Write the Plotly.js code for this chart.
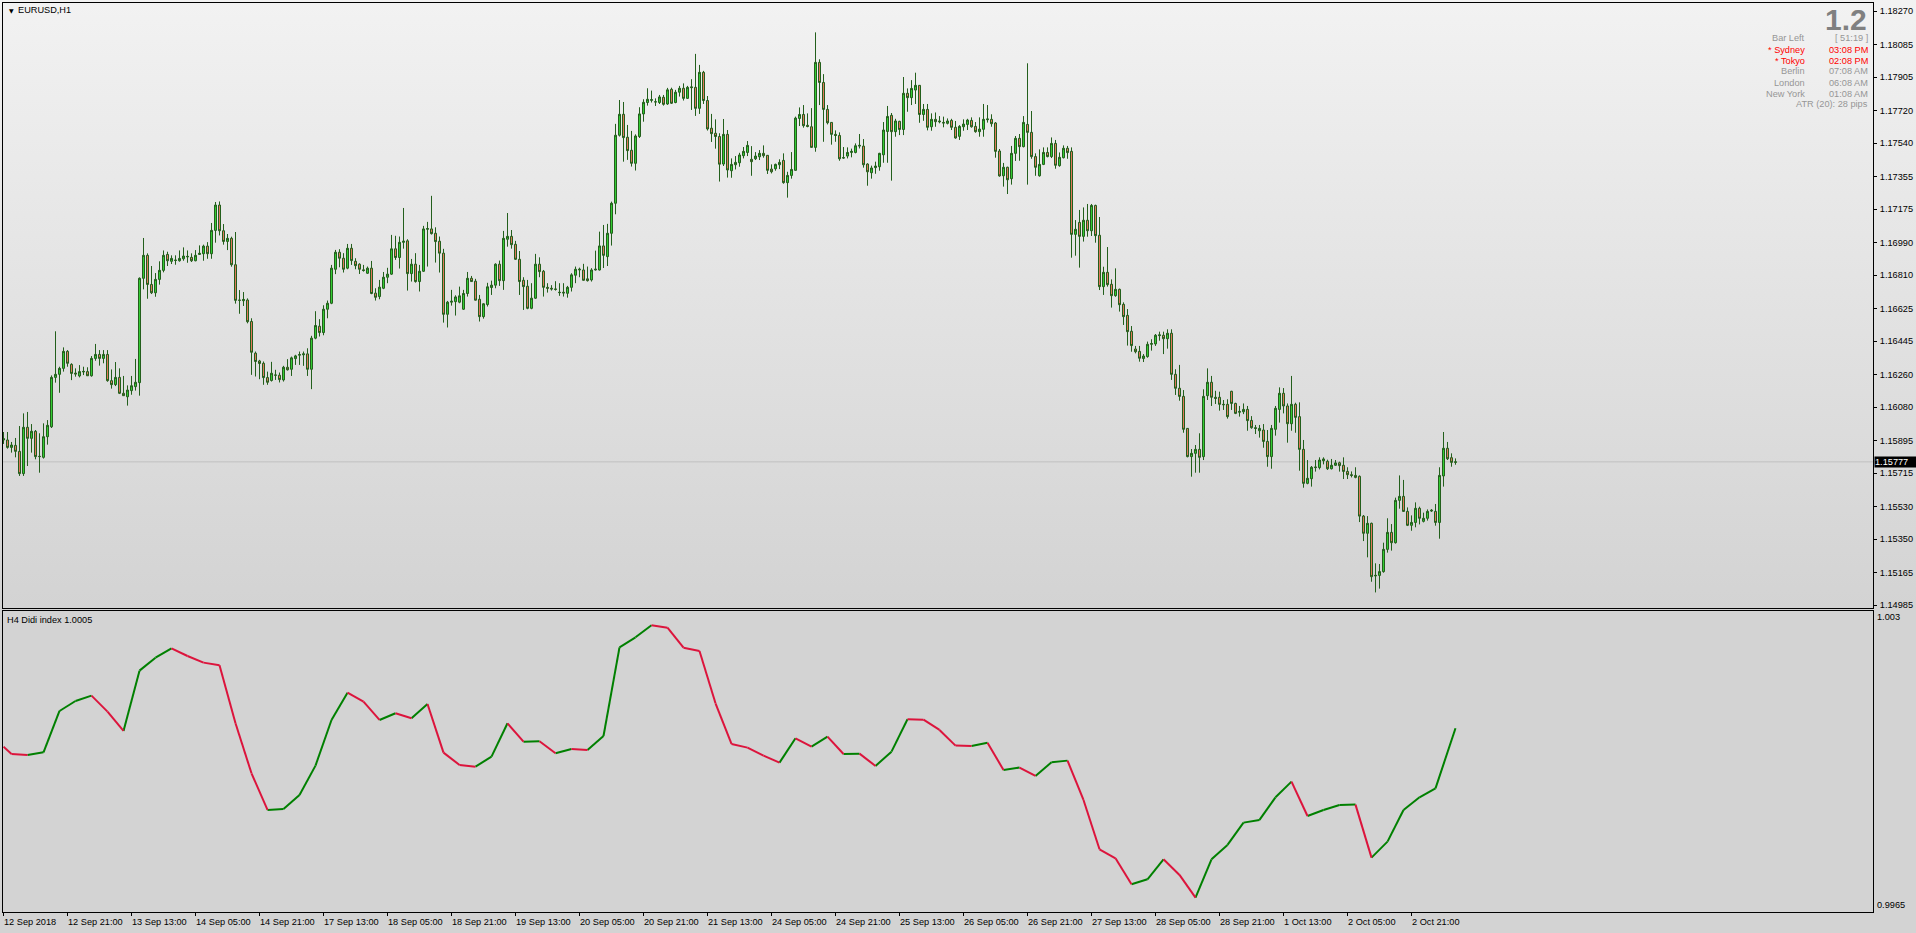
<!DOCTYPE html>
<html><head><meta charset="utf-8">
<script src="https://cdn.plot.ly/plotly-3.0.1.min.js"></script>
<style>
html,body{margin:0;padding:0;background:#d3d3d3;overflow:hidden;}
#chart{width:1916px;height:933px;background:linear-gradient(to bottom,#f2f2f2 0px,#d3d3d3 608px,#d3d3d3 933px);}
</style></head><body><div id="chart"></div><script>
const symbolTitle = "EURUSD,H1";
const didiTitle = "H4 Didi index 1.0005";
const bigText = "1.2";
const infoLabels = ["Bar Left","* Sydney","* Tokyo","Berlin","London","New York"];
const infoValues = ["[ 51:19 ]","03:08 PM","02:08 PM","07:08 AM","06:08 AM","01:08 AM"];
const infoRed = [false,true,true,false,false,false];
const atrText = "ATR (20): 28 pips";

const opens = [
1.15898,1.15898,1.15857,1.15868,1.15835,1.15712,1.15968,1.15907,1.15946,1.15806,
1.15802,1.15916,1.15971,1.16244,1.16261,1.16294,1.16388,1.16316,1.16268,1.16252,
1.16274,1.16276,1.16253,1.16349,1.16371,1.16349,1.16371,1.16226,1.16204,1.16244,
1.16156,1.16137,1.16171,1.16193,1.16215,1.16792,1.16919,1.16758,1.16712,1.16786,
1.16836,1.16924,1.16886,1.16893,1.16889,1.16900,1.16910,1.16908,1.16889,1.16924,
1.16928,1.16970,1.16928,1.17057,1.17197,1.17055,1.16996,1.17013,1.16867,1.16670,
1.16668,1.16672,1.16553,1.16378,1.16335,1.16322,1.16243,1.16227,1.16256,1.16256,
1.16230,1.16300,1.16289,1.16348,1.16367,1.16369,1.16374,1.16289,1.16461,1.16527,
1.16492,1.16621,1.16654,1.16842,1.16936,1.16903,1.16848,1.16958,1.16886,1.16870,
1.16839,1.16820,1.16848,1.16710,1.16691,1.16737,1.16798,1.16815,1.16955,1.16907,
1.16991,1.16999,1.16818,1.16870,1.16774,1.16831,1.17063,1.17065,1.17041,1.16997,
1.16931,1.16593,1.16660,1.16663,1.16660,1.16621,1.16708,1.16792,1.16776,1.16676,
1.16580,1.16647,1.16741,1.16754,1.16870,1.16779,1.17008,1.17024,1.16980,1.16897,
1.16781,1.16748,1.16626,1.16682,1.16870,1.16831,1.16742,1.16737,1.16733,1.16715,
1.16715,1.16709,1.16742,1.16809,1.16838,1.16838,1.16789,1.16783,1.16838,1.16838,
1.16971,1.16912,1.17041,1.17207,1.17583,1.17699,1.17572,1.17500,1.17428,1.17576,
1.17701,1.17764,1.17776,1.17767,1.17764,1.17793,1.17756,1.17837,1.17764,1.17821,
1.17843,1.17787,1.17846,1.17848,1.17732,1.17931,1.17775,1.17622,1.17594,1.17576,
1.17424,1.17588,1.17387,1.17420,1.17431,1.17470,1.17488,1.17450,1.17453,1.17464,
1.17483,1.17472,1.17396,1.17398,1.17420,1.17444,1.17321,1.17361,1.17389,1.17676,
1.17698,1.17638,1.17630,1.17516,1.17986,1.17875,1.17726,1.17654,1.17588,1.17582,
1.17457,1.17468,1.17488,1.17488,1.17523,1.17523,1.17424,1.17376,1.17404,1.17409,
1.17475,1.17604,1.17693,1.17603,1.17660,1.17615,1.17815,1.17791,1.17833,1.17859,
1.17698,1.17726,1.17630,1.17671,1.17662,1.17654,1.17649,1.17665,1.17627,1.17577,
1.17630,1.17643,1.17665,1.17632,1.17603,1.17616,1.17669,1.17671,1.17651,1.17496,
1.17359,1.17406,1.17343,1.17483,1.17566,1.17520,1.17643,1.17599,1.17465,1.17359,
1.17422,1.17488,1.17465,1.17538,1.17415,1.17459,1.17511,1.17494,1.17035,1.17101,
1.17024,1.17113,1.17055,1.17195,1.17030,1.16746,1.16825,1.16759,1.16696,1.16731,
1.16648,1.16587,1.16499,1.16401,1.16388,1.16348,1.16359,1.16427,1.16429,1.16475,
1.16477,1.16458,1.16488,1.16261,1.16184,1.16139,1.15962,1.15806,1.15824,1.15846,
1.15806,1.16143,1.16217,1.16134,1.16134,1.16095,1.16095,1.16167,1.16100,1.16056,
1.16054,1.16067,1.16006,1.15966,1.15949,1.15953,1.15890,1.15806,1.15957,1.16067,
1.16156,1.16086,1.15988,1.16095,1.16027,1.15846,1.15658,1.15684,1.15745,1.15745,
1.15783,1.15780,1.15739,1.15758,1.15772,1.15758,1.15724,1.15706,1.15702,1.15697,
1.15477,1.15382,1.15437,1.15146,1.15149,1.15170,1.15293,1.15387,1.15330,1.15564,
1.15586,1.15503,1.15426,1.15442,1.15520,1.15448,1.15465,1.15505,1.15503,1.15442,
1.15699,1.15852,1.15800,1.15774];

const highs = [
1.15942,1.15942,1.15887,1.15909,1.15975,1.16045,1.16053,1.15986,1.15953,1.15935,
1.15990,1.16008,1.16255,1.16499,1.16303,1.16410,1.16395,1.16322,1.16294,1.16312,
1.16303,1.16300,1.16362,1.16429,1.16395,1.16395,1.16395,1.16288,1.16329,1.16294,
1.16252,1.16200,1.16252,1.16346,1.16797,1.17015,1.16930,1.16860,1.16821,1.16886,
1.16946,1.16939,1.16919,1.16919,1.16946,1.16963,1.16946,1.16930,1.16948,1.16974,
1.16978,1.16992,1.17098,1.17214,1.17217,1.17092,1.17037,1.17022,1.17048,1.16727,
1.16716,1.16681,1.16571,1.16387,1.16341,1.16332,1.16276,1.16330,1.16286,1.16271,
1.16308,1.16345,1.16359,1.16369,1.16387,1.16387,1.16405,1.16474,1.16610,1.16566,
1.16643,1.16669,1.16866,1.16949,1.16953,1.16931,1.16982,1.16982,1.16903,1.16875,
1.16866,1.16857,1.16888,1.16737,1.16783,1.16827,1.16850,1.17032,1.17027,1.17023,
1.17181,1.17008,1.16899,1.16931,1.16866,1.17082,1.17104,1.17248,1.17074,1.17023,
1.16955,1.16667,1.16728,1.16698,1.16746,1.16728,1.16827,1.16805,1.16789,1.16700,
1.16654,1.16767,1.16779,1.16875,1.16890,1.17054,1.17153,1.17059,1.16999,1.16943,
1.16798,1.16783,1.16765,1.16927,1.16908,1.16838,1.16765,1.16754,1.16776,1.16765,
1.16765,1.16750,1.16820,1.16857,1.16851,1.16872,1.16857,1.16848,1.16945,1.17050,
1.17087,1.17093,1.17216,1.17646,1.17778,1.17767,1.17640,1.17607,1.17588,1.17738,
1.17782,1.17843,1.17830,1.17787,1.17806,1.17806,1.17845,1.17846,1.17834,1.17856,
1.17870,1.17856,1.17893,1.18033,1.17972,1.17939,1.17800,1.17701,1.17671,1.17594,
1.17673,1.17612,1.17455,1.17468,1.17486,1.17518,1.17551,1.17523,1.17490,1.17501,
1.17527,1.17474,1.17422,1.17426,1.17450,1.17483,1.17381,1.17490,1.17686,1.17737,
1.17750,1.17704,1.17733,1.18152,1.18003,1.17921,1.17750,1.17656,1.17610,1.17599,
1.17518,1.17516,1.17509,1.17538,1.17590,1.17562,1.17428,1.17415,1.17437,1.17486,
1.17656,1.17745,1.17706,1.17674,1.17663,1.17905,1.17842,1.17888,1.17929,1.17861,
1.17756,1.17756,1.17704,1.17709,1.17689,1.17686,1.17676,1.17674,1.17662,1.17639,
1.17671,1.17674,1.17682,1.17656,1.17682,1.17756,1.17750,1.17699,1.17656,1.17507,
1.17430,1.17409,1.17524,1.17579,1.17590,1.17689,1.17981,1.17717,1.17483,1.17505,
1.17516,1.17516,1.17571,1.17557,1.17488,1.17527,1.17524,1.17516,1.17114,1.17170,
1.17184,1.17203,1.17203,1.17199,1.17131,1.16856,1.16965,1.16786,1.16847,1.16735,
1.16659,1.16622,1.16528,1.16418,1.16418,1.16373,1.16442,1.16455,1.16484,1.16497,
1.16497,1.16510,1.16510,1.16289,1.16313,1.16174,1.15964,1.15848,1.15870,1.15935,
1.16178,1.16294,1.16252,1.16170,1.16165,1.16119,1.16123,1.16170,1.16104,1.16086,
1.16100,1.16086,1.16030,1.15981,1.15981,1.15986,1.15953,1.15981,1.16086,1.16189,
1.16185,1.16100,1.16252,1.16104,1.16106,1.15898,1.15787,1.15754,1.15787,1.15802,
1.15802,1.15789,1.15793,1.15787,1.15778,1.15802,1.15747,1.15724,1.15747,1.15702,
1.15483,1.15477,1.15441,1.15216,1.15212,1.15330,1.15465,1.15433,1.15579,1.15702,
1.15677,1.15525,1.15481,1.15553,1.15529,1.15496,1.15514,1.15516,1.15544,1.15747,
1.15942,1.15887,1.15824,1.15796];

const lows = [
1.15876,1.15850,1.15828,1.15802,1.15699,1.15699,1.15754,1.15828,1.15791,1.15717,
1.15795,1.15872,1.15964,1.16215,1.16159,1.16276,1.16303,1.16229,1.16248,1.16244,
1.16257,1.16252,1.16248,1.16336,1.16309,1.16322,1.16220,1.16182,1.16196,1.16152,
1.16141,1.16088,1.16148,1.16171,1.16143,1.16731,1.16679,1.16705,1.16690,1.16757,
1.16825,1.16860,1.16871,1.16867,1.16884,1.16889,1.16878,1.16882,1.16886,1.16921,
1.16889,1.16900,1.16900,1.16989,1.17029,1.16978,1.16948,1.16856,1.16652,1.16596,
1.16639,1.16543,1.16258,1.16249,1.16234,1.16203,1.16203,1.16221,1.16230,1.16216,
1.16221,1.16282,1.16252,1.16313,1.16313,1.16308,1.16252,1.16179,1.16455,1.16470,
1.16477,1.16571,1.16649,1.16815,1.16853,1.16824,1.16842,1.16866,1.16842,1.16816,
1.16829,1.16816,1.16704,1.16669,1.16676,1.16732,1.16765,1.16811,1.16894,1.16846,
1.16956,1.16724,1.16774,1.16768,1.16719,1.16827,1.16857,1.17034,1.16879,1.16824,
1.16547,1.16520,1.16641,1.16586,1.16654,1.16617,1.16691,1.16772,1.16669,1.16553,
1.16569,1.16636,1.16700,1.16737,1.16750,1.16728,1.16967,1.16956,1.16894,1.16700,
1.16617,1.16621,1.16621,1.16678,1.16798,1.16691,1.16713,1.16724,1.16724,1.16695,
1.16691,1.16685,1.16719,1.16765,1.16798,1.16779,1.16774,1.16774,1.16835,1.16835,
1.16849,1.16860,1.16973,1.17146,1.17576,1.17437,1.17447,1.17410,1.17388,1.17568,
1.17658,1.17747,1.17764,1.17745,1.17756,1.17747,1.17751,1.17756,1.17760,1.17797,
1.17775,1.17784,1.17723,1.17690,1.17701,1.17756,1.17609,1.17546,1.17509,1.17327,
1.17413,1.17349,1.17348,1.17394,1.17409,1.17455,1.17468,1.17359,1.17446,1.17446,
1.17459,1.17369,1.17372,1.17387,1.17396,1.17315,1.17238,1.17343,1.17387,1.17634,
1.17625,1.17627,1.17514,1.17492,1.17750,1.17547,1.17643,1.17531,1.17547,1.17442,
1.17453,1.17455,1.17461,1.17483,1.17510,1.17404,1.17304,1.17343,1.17370,1.17387,
1.17431,1.17431,1.17332,1.17575,1.17584,1.17584,1.17713,1.17750,1.17756,1.17652,
1.17663,1.17610,1.17608,1.17630,1.17649,1.17627,1.17643,1.17612,1.17564,1.17557,
1.17608,1.17612,1.17625,1.17597,1.17575,1.17575,1.17653,1.17630,1.17459,1.17354,
1.17299,1.17258,1.17310,1.17441,1.17442,1.17516,1.17310,1.17453,1.17359,1.17354,
1.17418,1.17461,1.17457,1.17398,1.17409,1.17455,1.17453,1.16906,1.16917,1.16851,
1.16995,1.17022,1.17026,1.16989,1.16727,1.16700,1.16746,1.16630,1.16690,1.16608,
1.16534,1.16420,1.16386,1.16377,1.16331,1.16329,1.16353,1.16392,1.16418,1.16447,
1.16373,1.16403,1.16230,1.16147,1.16115,1.15938,1.15802,1.15695,1.15717,1.15717,
1.15787,1.16119,1.16086,1.16097,1.16060,1.16064,1.16016,1.16064,1.16041,1.16027,
1.16041,1.15949,1.15960,1.15931,1.15911,1.15855,1.15750,1.15739,1.15922,1.15994,
1.16045,1.15883,1.15949,1.15938,1.15728,1.15634,1.15653,1.15640,1.15723,1.15735,
1.15763,1.15732,1.15735,1.15754,1.15723,1.15682,1.15682,1.15691,1.15686,1.15444,
1.15339,1.15249,1.15114,1.15055,1.15076,1.15164,1.15275,1.15286,1.15325,1.15518,
1.15500,1.15422,1.15396,1.15415,1.15431,1.15442,1.15452,1.15500,1.15424,1.15352,
1.15640,1.15787,1.15750,1.15761];

const closes = [
1.15905,1.15857,1.15870,1.15835,1.15712,1.15968,1.15907,1.15946,1.15806,1.15807,
1.15916,1.15979,1.16244,1.16261,1.16294,1.16388,1.16322,1.16266,1.16263,1.16276,
1.16277,1.16253,1.16349,1.16371,1.16349,1.16371,1.16226,1.16204,1.16244,1.16156,
1.16143,1.16174,1.16198,1.16217,1.16792,1.16919,1.16758,1.16712,1.16786,1.16836,
1.16919,1.16889,1.16902,1.16891,1.16902,1.16915,1.16913,1.16889,1.16919,1.16930,
1.16970,1.16928,1.17057,1.17197,1.17055,1.16996,1.17013,1.16867,1.16670,1.16671,
1.16675,1.16552,1.16383,1.16332,1.16321,1.16243,1.16217,1.16267,1.16257,1.16232,
1.16300,1.16286,1.16352,1.16363,1.16370,1.16374,1.16289,1.16461,1.16531,1.16492,
1.16621,1.16654,1.16848,1.16936,1.16903,1.16842,1.16958,1.16890,1.16862,1.16842,
1.16835,1.16848,1.16708,1.16687,1.16743,1.16798,1.16815,1.16955,1.16907,1.16991,
1.16997,1.16818,1.16870,1.16774,1.16831,1.17065,1.17067,1.17039,1.16995,1.16931,
1.16593,1.16660,1.16665,1.16689,1.16695,1.16708,1.16792,1.16774,1.16671,1.16580,
1.16651,1.16745,1.16754,1.16870,1.16779,1.17013,1.17024,1.16978,1.16897,1.16774,
1.16746,1.16626,1.16682,1.16870,1.16829,1.16742,1.16737,1.16733,1.16731,1.16713,
1.16711,1.16742,1.16811,1.16842,1.16842,1.16781,1.16779,1.16838,1.16842,1.16971,
1.16919,1.17041,1.17207,1.17583,1.17699,1.17570,1.17498,1.17428,1.17579,1.17701,
1.17765,1.17782,1.17780,1.17768,1.17795,1.17754,1.17834,1.17760,1.17821,1.17843,
1.17787,1.17848,1.17850,1.17732,1.17931,1.17775,1.17618,1.17592,1.17576,1.17423,
1.17588,1.17391,1.17422,1.17433,1.17474,1.17494,1.17527,1.17437,1.17468,1.17483,
1.17470,1.17389,1.17381,1.17422,1.17433,1.17321,1.17361,1.17394,1.17678,1.17698,
1.17636,1.17632,1.17516,1.17986,1.17875,1.17726,1.17652,1.17588,1.17582,1.17453,
1.17459,1.17488,1.17494,1.17525,1.17527,1.17420,1.17381,1.17402,1.17413,1.17483,
1.17612,1.17687,1.17603,1.17662,1.17615,1.17815,1.17791,1.17842,1.17859,1.17698,
1.17726,1.17627,1.17671,1.17658,1.17658,1.17651,1.17662,1.17627,1.17568,1.17632,
1.17645,1.17667,1.17630,1.17603,1.17617,1.17671,1.17673,1.17647,1.17494,1.17358,
1.17406,1.17337,1.17483,1.17566,1.17520,1.17654,1.17599,1.17465,1.17406,1.17422,
1.17488,1.17465,1.17538,1.17417,1.17461,1.17511,1.17487,1.17035,1.17063,1.17024,
1.17113,1.17055,1.17195,1.17028,1.16746,1.16825,1.16757,1.16696,1.16731,1.16646,
1.16580,1.16497,1.16420,1.16386,1.16350,1.16362,1.16427,1.16431,1.16477,1.16479,
1.16458,1.16488,1.16261,1.16184,1.16139,1.15957,1.15806,1.15824,1.15846,1.15802,
1.16139,1.16217,1.16134,1.16128,1.16095,1.16093,1.16027,1.16100,1.16045,1.16052,
1.16067,1.16005,1.15966,1.15962,1.15962,1.15890,1.15806,1.15962,1.16073,1.16156,
1.16086,1.15988,1.16095,1.16023,1.15846,1.15658,1.15686,1.15747,1.15748,1.15787,
1.15793,1.15739,1.15758,1.15771,1.15756,1.15724,1.15706,1.15702,1.15691,1.15477,
1.15382,1.15437,1.15142,1.15149,1.15170,1.15293,1.15387,1.15330,1.15564,1.15586,
1.15503,1.15426,1.15442,1.15520,1.15465,1.15465,1.15503,1.15509,1.15442,1.15702,
1.15852,1.15794,1.15774,1.15777];

const tickBars = [0,16,32,48,64,80,96,112,128,144,160,176,192,208,224,240,256,272,288,304,320,336,352];
const tickLabels = ["12 Sep 2018","12 Sep 21:00","13 Sep 13:00","14 Sep 05:00","14 Sep 21:00","17 Sep 13:00",
"18 Sep 05:00","18 Sep 21:00","19 Sep 13:00","20 Sep 05:00","20 Sep 21:00","21 Sep 13:00","24 Sep 05:00",
"24 Sep 21:00","25 Sep 13:00","26 Sep 05:00","26 Sep 21:00","27 Sep 13:00","28 Sep 05:00","28 Sep 21:00",
"1 Oct 13:00","2 Oct 05:00","2 Oct 21:00"];
const priceTicks = ["1.18270","1.18085","1.17905","1.17720","1.17540","1.17355","1.17175","1.16990","1.16810",
"1.16625","1.16445","1.16260","1.16080","1.15895","1.15715","1.15530","1.15350","1.15165","1.14985"];

const didiBars = [0,2,6,10,14,18,22,26,30,34,38,42,46,50,54,58,62,66,70,74,78,82,86,90,94,98,102,106,110,114,
118,122,126,130,134,138,142,146,150,154,158,162,166,170,174,178,182,186,190,194,198,202,206,210,214,218,222,226,
230,234,238,242,246,250,254,258,262,266,270,274,278,282,286,290,294,298,302,306,310,314,318,322,326,330,334,338,
342,346,350,354,358,363];
const didiVals = [1.000071,0.999913,0.999891,0.999948,1.000841,1.001057,1.001172,1.000827,1.000409,1.001712,
1.001992,1.002194,1.002028,1.001885,1.001827,1.000575,0.999495,0.998704,0.998725,0.999027,0.999661,1.000647,
1.001237,1.001042,1.000647,1.000791,1.000683,1.000992,0.999941,0.999675,0.999639,0.999855,1.000575,1.000179,
1.000186,0.999927,1.000021,0.999999,1.000301,1.002216,1.002432,1.002691,1.002640,1.002208,1.002136,1.001007,
1.000129,1.000049,0.999877,0.999725,1.000251,1.000071,1.000287,0.999913,0.999920,0.999654,0.999963,1.000661,
1.000654,1.000431,1.000093,1.000085,1.000157,0.999567,0.999618,0.999438,0.999733,0.999769,0.998920,0.997854,
0.997660,0.997099,0.997207,0.997638,0.997300,0.996811,0.997638,0.997948,0.998430,0.998488,0.998977,0.999315,
0.998574,0.998704,0.998812,0.998819,0.997674,0.998020,0.998704,0.998977,0.999171,1.000467];
const didiMin = 0.9965, didiMax = 1.003;

// ---- geometry (pixels of the 1916x933 window) ----
const W = 1916, H = 933, PL = 3, PR = 1873;
const mainTop = 3, mainBot = 608, lowTop = 611, lowBot = 912;
const px = x => (x - PL) / (PR - PL);
const py = y => 1 - y / H;
const xRange = [-0.125, 467.375];
const mainRange = [1.149688, 1.183144];
const FONT = "Liberation Sans, Arial, sans-serif";
const fs = 9.2;

const idx = closes.map((_, i) => i);
const candle = {
  type: 'candlestick', x: idx, open: opens, high: highs, low: lows, close: closes,
  xaxis: 'x2', yaxis: 'y', whiskerwidth: 0, hoverinfo: 'skip', showlegend: false,
  increasing: {line: {color: '#235f1c', width: 1}, fillcolor: '#33cc33'},
  decreasing: {line: {color: '#235f1c', width: 1}, fillcolor: '#e0785a'}
};

const gX = [], gY = [], rX = [], rY = [];
for (let i = 0; i < didiBars.length - 1; i++) {
  const up = didiVals[i + 1] >= didiVals[i];
  const X = up ? gX : rX, Y = up ? gY : rY;
  X.push(didiBars[i], didiBars[i + 1], null);
  Y.push(didiVals[i], didiVals[i + 1], null);
}
const didiGreen = {type: 'scatter', mode: 'lines', x: gX, y: gY, xaxis: 'x', yaxis: 'y2',
  line: {color: '#008000', width: 2}, connectgaps: false, hoverinfo: 'skip', showlegend: false};
const didiRed = {type: 'scatter', mode: 'lines', x: rX, y: rY, xaxis: 'x', yaxis: 'y2',
  line: {color: '#dc143c', width: 2}, connectgaps: false, hoverinfo: 'skip', showlegend: false};

const ann = [];
// x-axis labels
tickBars.forEach((b, i) => ann.push({x: b, xref: 'x', y: py(922), yref: 'paper', text: tickLabels[i],
  xanchor: 'left', yanchor: 'middle', xshift: -2, showarrow: false, font: {family: FONT, size: fs, color: '#000'}}));
// lower panel axis labels
ann.push({x: 1, xref: 'paper', xanchor: 'left', xshift: 2, y: py(617), yref: 'paper', yanchor: 'middle',
  text: String(didiMax), showarrow: false, font: {family: FONT, size: fs, color: '#000'}});
ann.push({x: 1, xref: 'paper', xanchor: 'left', xshift: 2, y: py(905), yref: 'paper', yanchor: 'middle',
  text: String(didiMin), showarrow: false, font: {family: FONT, size: fs, color: '#000'}});
// current price box
const last = closes[closes.length - 1];
ann.push({x: 1, xref: 'paper', xanchor: 'left', xshift: 1, y: last, yref: 'y', yanchor: 'middle',
  text: last.toFixed(5), width: 42, align: 'left', showarrow: false, bgcolor: '#000', borderpad: 0,
  font: {family: FONT, size: fs, color: '#fff'}});
// titles
ann.push({x: px(7), xref: 'paper', xanchor: 'left', y: py(10.5), yref: 'paper', yanchor: 'middle',
  text: '\u25BC', showarrow: false, font: {family: 'DejaVu Sans', size: 6, color: '#000'}});
ann.push({x: px(16), xref: 'paper', xanchor: 'left', y: py(10.5), yref: 'paper', yanchor: 'middle',
  text: symbolTitle, showarrow: false, font: {family: FONT, size: fs, color: '#000'}});
ann.push({x: px(5), xref: 'paper', xanchor: 'left', y: py(619.5), yref: 'paper', yanchor: 'middle',
  text: didiTitle, showarrow: false, font: {family: FONT, size: fs, color: '#000'}});
// info block
ann.push({x: px(1869), xref: 'paper', xanchor: 'right', y: py(19.5), yref: 'paper', yanchor: 'middle',
  text: '<b>' + bigText + '</b>', showarrow: false, font: {family: FONT, size: 30, color: '#808080'}});
infoLabels.forEach((t, i) => {
  const c = infoRed[i] ? '#ff0000' : '#969696';
  const y = py(38.5 + 11 * i);
  ann.push({x: px(1807), xref: 'paper', xanchor: 'right', y: y, yref: 'paper', yanchor: 'middle',
    text: t, showarrow: false, font: {family: FONT, size: fs, color: c}});
  ann.push({x: px(1870), xref: 'paper', xanchor: 'right', y: y, yref: 'paper', yanchor: 'middle',
    text: infoValues[i], showarrow: false, font: {family: FONT, size: fs, color: c}});
});
ann.push({x: px(1870), xref: 'paper', xanchor: 'right', y: py(38.5 + 11 * 6), yref: 'paper', yanchor: 'middle',
  text: atrText, showarrow: false, font: {family: FONT, size: fs, color: '#969696'}});

const layout = {
  width: W, height: H, margin: {l: PL, r: W - PR, t: 0, b: 0, pad: 0},
  paper_bgcolor: 'rgba(0,0,0,0)', plot_bgcolor: 'rgba(0,0,0,0)',
  font: {family: FONT, size: fs, color: '#000'},
  showlegend: false, boxgap: 0.5, boxgroupgap: 0, dragmode: false,
  xaxis: {domain: [0, 1], anchor: 'y2', range: xRange, showgrid: false, zeroline: false,
    showline: true, mirror: true, linecolor: '#000', linewidth: 1,
    ticks: 'outside', ticklen: 3, tickcolor: '#000', tickvals: tickBars, showticklabels: false,
    rangeslider: {visible: false}, fixedrange: true},
  xaxis2: {domain: [0, 1], anchor: 'y', range: xRange, showgrid: false, zeroline: false,
    showline: true, mirror: true, linecolor: '#000', linewidth: 1, ticks: '', showticklabels: false,
    rangeslider: {visible: false}, fixedrange: true},
  yaxis: {domain: [py(mainBot), py(mainTop)], anchor: 'x2', side: 'right', range: mainRange,
    showgrid: false, zeroline: false, showline: true, mirror: true, linecolor: '#000', linewidth: 1,
    ticks: 'outside', ticklen: 3, tickcolor: '#000', tickvals: priceTicks.map(Number), ticktext: priceTicks,
    tickfont: {family: FONT, size: fs, color: '#000'}, ticklabelstandoff: 1, fixedrange: true},
  yaxis2: {domain: [py(lowBot), py(lowTop)], anchor: 'x', side: 'right', range: [didiMin, didiMax],
    showgrid: false, zeroline: false, showline: true, mirror: true, linecolor: '#000', linewidth: 1,
    ticks: '', showticklabels: false, fixedrange: true},
  shapes: [{type: 'line', xref: 'paper', x0: 0, x1: 1, yref: 'y', y0: last, y1: last,
    line: {color: '#c0c0c0', width: 1}, layer: 'below'}],
  annotations: ann
};

Plotly.newPlot('chart', [candle, didiGreen, didiRed], layout, {displayModeBar: false, staticPlot: true});
</script></body></html>
